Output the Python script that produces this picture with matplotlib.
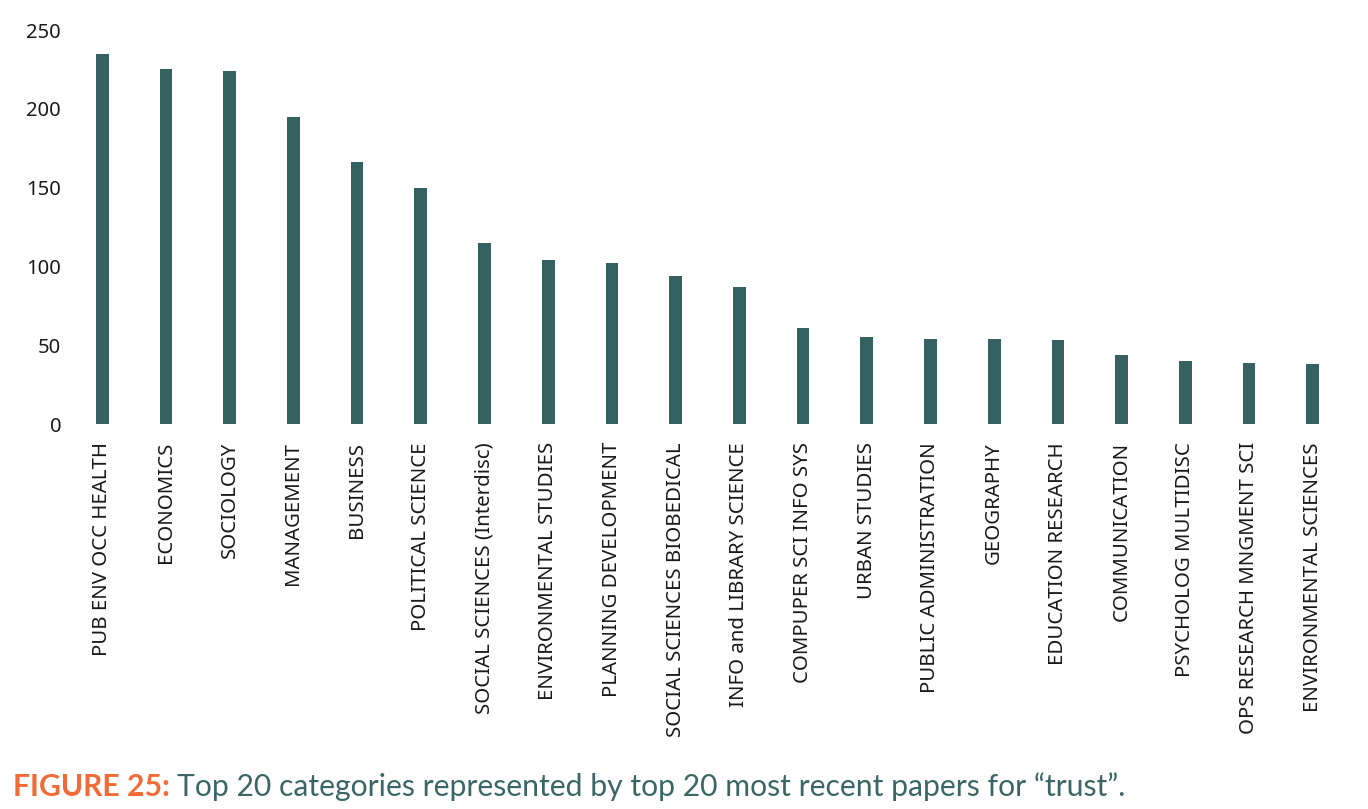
import matplotlib
matplotlib.use('Agg')
import matplotlib.pyplot as plt
import numpy as np

categories = [
    'PUB ENV OCC HEALTH', 'ECONOMICS', 'SOCIOLOGY', 'MANAGEMENT', 'BUSINESS',
    'POLITICAL SCIENCE', 'SOCIAL SCIENCES (Interdisc)', 'ENVIRONMENTAL STUDIES',
    'PLANNING DEVELOPMENT', 'SOCIAL SCIENCES BIOBEDICAL', 'INFO and LIBRARY SCIENCE',
    'COMPUPER SCI INFO SYS', 'URBAN STUDIES', 'PUBLIC ADMINISTRATION', 'GEOGRAPHY',
    'EDUCATION RESEARCH', 'COMMUNICATION', 'PSYCHOLOG MULTIDISC',
    'OPS RESEARCH MNGMENT SCI', 'ENVIRONMENTAL SCIENCES',
]
counts = [235, 225, 224, 195, 166, 150, 115, 104, 102, 94,
          87, 61, 55, 54, 54, 53, 44, 40, 39, 38]
yticks = [0, 50, 100, 150, 200, 250]

plt.rcParams['font.family'] = ['Noto Sans', 'DejaVu Sans']

W, H = 1368, 809
fig = plt.figure(figsize=(W / 100, H / 100), dpi=100)
# axes placed in pixel terms: x from 64 to 1351, y from 30 to 424 (top origin)
ax = fig.add_axes([64 / W, 1 - 424 / H, (1351 - 64) / W, (424 - 30) / H])

x = np.arange(len(categories))
ax.bar(x, counts, width=0.2, color='#356160')

ax.set_xlim(-0.6, len(categories) - 0.4)
ax.set_ylim(0, 250)
ax.set_yticks(yticks)
ax.set_xticks(x)
ax.set_xticklabels(categories, rotation=90, fontsize=14.7, color='#1a1a1a')
ax.tick_params(axis='y', labelsize=14.5, colors='#1a1a1a', length=0, pad=2)
ax.tick_params(axis='x', length=0, pad=13)
for s in ax.spines.values():
    s.set_visible(False)

# caption
cap_font = ['Lato', 'DejaVu Sans']
t1 = fig.text(13 / W, 1 - 787 / H, 'FIGURE 25:', fontsize=21.7, fontweight='bold',
              family=cap_font, color='#F26A35', va='center', ha='left')
fig.canvas.draw()
bb = t1.get_window_extent()
fig.text((bb.x1 + 7) / W, 1 - 787 / H,
         'Top 20 categories represented by top 20 most recent papers for \u201ctrust\u201d.',
         fontsize=21.7, family=cap_font, color='#3B6667', va='center', ha='left')

fig.savefig('out.png', dpi=100)
